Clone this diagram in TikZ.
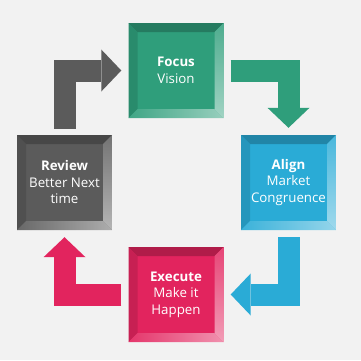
\documentclass[tikz,border=0pt]{standalone}
\usepackage{fontspec}
\setmainfont{Open Sans}
\usetikzlibrary{arrows.meta}

\definecolor{pagebg}{HTML}{F2F2F2}
\definecolor{focusgreen}{HTML}{2F9E7B}
\definecolor{alignblue}{HTML}{2AABD6}
\definecolor{executepink}{HTML}{E2245E}
\definecolor{reviewgray}{HTML}{5B5B5B}

\tikzset{
  stagebox/.style={fill=#1, minimum size=95pt, inner sep=0pt, text=white,
    align=center, font=\fontsize{13.3}{16.5}\selectfont,
    path picture={
      % bevel: top, left, bottom, right
      \fill[#1!78!black] (path picture bounding box.north west) -- (path picture bounding box.north east)
        -- ([shift={(-9pt,-9pt)}]path picture bounding box.north east) -- ([shift={(9pt,-9pt)}]path picture bounding box.north west) -- cycle;
      \fill[#1!88!black] (path picture bounding box.north west) -- (path picture bounding box.south west)
        -- ([shift={(9pt,9pt)}]path picture bounding box.south west) -- ([shift={(9pt,-9pt)}]path picture bounding box.north west) -- cycle;
      \shade[left color=#1!92!white, right color=#1!50!white] (path picture bounding box.south west) -- (path picture bounding box.south east)
        -- ([shift={(-9pt,9pt)}]path picture bounding box.south east) -- ([shift={(9pt,9pt)}]path picture bounding box.south west) -- cycle;
      \shade[top color=#1!85!white, bottom color=#1!45!white] (path picture bounding box.north east) -- (path picture bounding box.south east)
        -- ([shift={(-9pt,9pt)}]path picture bounding box.south east) -- ([shift={(-9pt,-9pt)}]path picture bounding box.north east) -- cycle;
    }},
  cyclearrow/.style={draw=#1, line width=22pt, line cap=butt, miter limit=4,
    shorten <=7pt, shorten >=7pt,
    -{Triangle[width=42pt, length=20pt, line width=0pt, fill=#1]}}
}

\begin{document}
\begin{tikzpicture}[x=1pt, y=-1pt]
        \fill[pagebg] (0,0) rectangle (361,360);
        \useasboundingbox (0,0) rectangle (361,360);

        % Draw nodes
        \node[stagebox=focusgreen] (focus) at (176,70.5) {\textbf{Focus}\\Vision};
        \node[stagebox=alignblue] (align) at (288.5,182.5) {\textbf{Align}\\Market\\Congruence};
        \node[stagebox=executepink] (execute) at (176,294.5) {\textbf{Execute}\\Make it\\Happen};
        \node[stagebox=reviewgray] (review) at (64.5,182.5) {\textbf{Review}\\Better Next\\time};

        % Draw connections
        \draw[cyclearrow=reviewgray, shorten <=6pt] (review.north) |- (focus.west);
        \draw[cyclearrow=focusgreen] (focus.east) -| (align.north);
        \draw[cyclearrow=alignblue] (align.south) |- (execute.east);
        \draw[cyclearrow=executepink] (execute.west) -| (review.south);
    \end{tikzpicture}
\end{document}
